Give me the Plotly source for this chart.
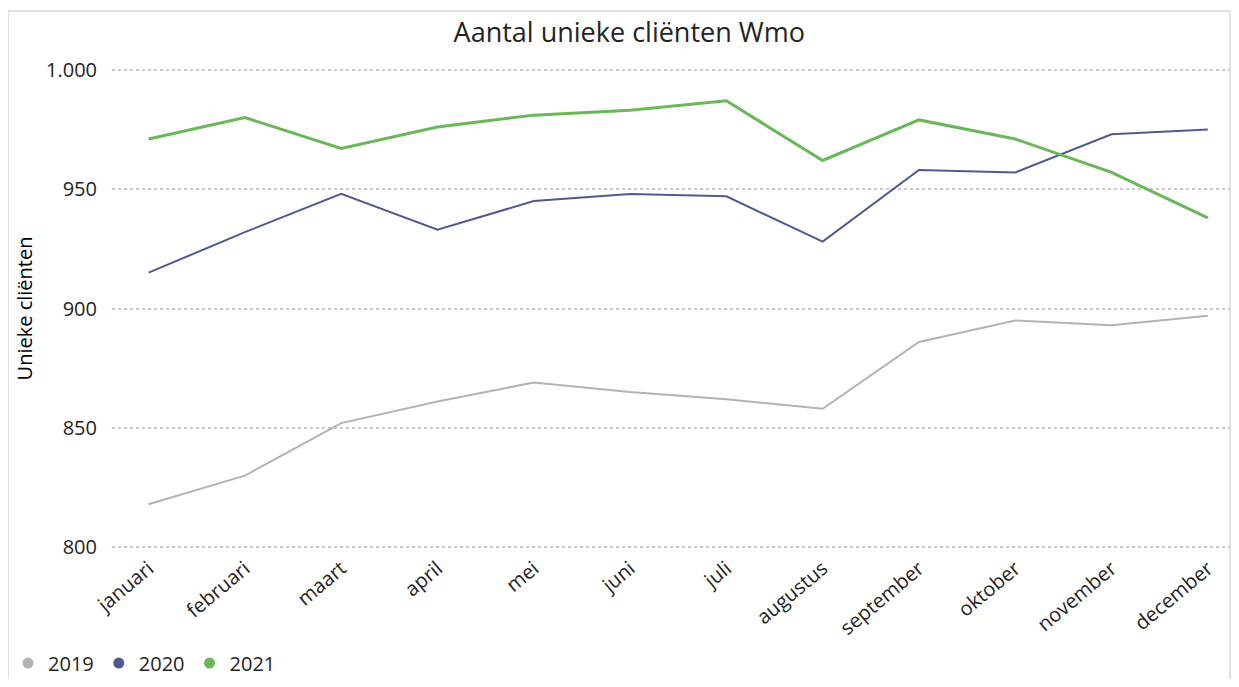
"""Aantal unieke cliënten Wmo per maand, 2019-2021"""

import plotly.graph_objects as go

maanden = ['januari', 'februari', 'maart', 'april', 'mei', 'juni', 'juli',
           'augustus', 'september', 'oktober', 'november', 'december']

jaren = ['2019', '2020', '2021']
clienten_2019 = [818, 830, 852, 861, 869, 865, 862, 858, 886, 895, 893, 897]
clienten_2020 = [915, 932, 948, 933, 945, 948, 947, 928, 958, 957, 973, 975]
clienten_2021 = [971, 980, 967, 976, 981, 983, 987, 962, 979, 971, 957, 938]

kleuren = ['#b3b3b3', '#4e5991', '#6ab75a']
dikte = [2, 2, 3]
reeksen = [clienten_2019, clienten_2020, clienten_2021]

fig = go.Figure()

for jaar, waarden, kleur, w in zip(jaren, reeksen, kleuren, dikte):
    fig.add_trace(go.Scatter(
        x=maanden, y=waarden, mode='lines', name=jaar,
        line=dict(color=kleur, width=w), showlegend=False))

# legend with round markers like the original
for jaar, kleur in zip(jaren, kleuren):
    fig.add_trace(go.Scatter(
        x=[None], y=[None], mode='markers', name=jaar,
        marker=dict(color=kleur, size=11, symbol='circle')))

# the page body adds an 8px margin, so the figure is a bit smaller than the window
fig.update_layout(
    width=1223, height=671,
    margin=dict(l=104, r=1, t=57, b=127, autoexpand=False),
    paper_bgcolor='white', plot_bgcolor='white',
    font=dict(family='Segoe UI, Open Sans, sans-serif', color='#252423', size=20),
    separators=',.',
    title=dict(text='Aantal unieke cliënten Wmo', x=0.508, xref='container',
               y=0.964, yref='container', xanchor='center', yanchor='middle',
               font=dict(size=27, color='#252423')),
    legend=dict(orientation='h', x=-0.093, xanchor='left', y=-0.228, yanchor='middle',
                font=dict(size=20, color='#252423'), itemwidth=30,
                bgcolor='rgba(0,0,0,0)', itemclick=False, tracegroupgap=0),
    shapes=[dict(type='rect', xref='paper', yref='paper',
                 x0=-0.093, x1=1.0, y0=-0.35, y1=1.111,
                 line=dict(color='#d9d9d9', width=1.5), layer='below')],
)

fig.update_xaxes(
    range=[-0.38, 11.23], showgrid=False, zeroline=False, showline=False,
    automargin=False, tickangle=-40, ticks='',
    tickfont=dict(size=20, color='#252423'))

fig.update_yaxes(
    range=[798, 1002], tickvals=[800, 850, 900, 950, 1000], tickformat=',d',
    showgrid=True, gridcolor='#c8c8c8', griddash='dot', gridwidth=1.5,
    zeroline=False, showline=False, automargin=False, ticks='', ticklabelstandoff=14,
    tickfont=dict(size=20, color='#252423'),
    title=dict(text='Unieke cliënten', font=dict(size=20, color='#000000'), standoff=8))

fig.write_html("out.html")
